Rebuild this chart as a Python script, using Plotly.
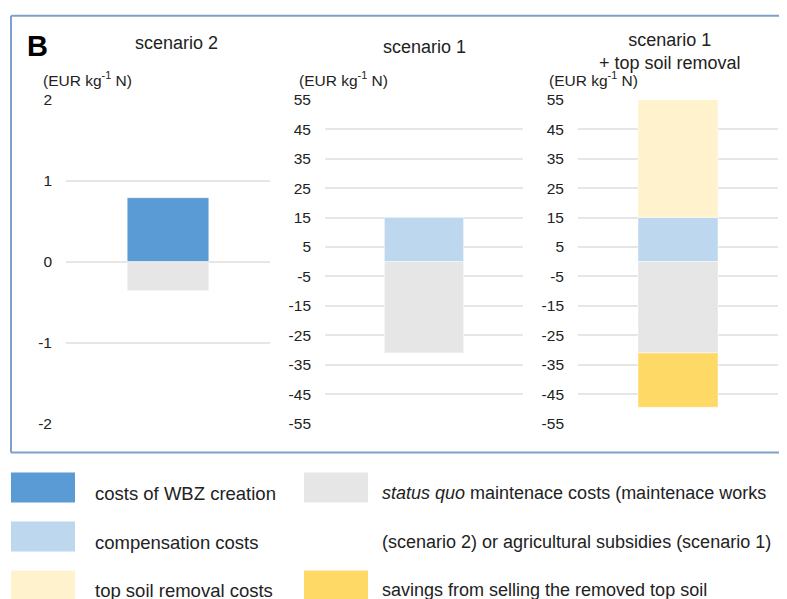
import plotly.graph_objects as go

# ---- data ----
panels = ["scenario 2", "scenario 1", "scenario 1<br>+ top soil removal"]
wbz_creation = [0.79, None, None]
compensation = [None, 15, 15]
topsoil_removal = [None, None, 40]
status_quo = [-0.36, -31, -31]
savings = [None, None, -18.5]

ticks_s2 = [2, 1, 0, -1, -2]
ticks_s1 = [55, 45, 35, 25, 15, 5, -5, -15, -25, -35, -45, -55]
ranges = [[-2, 2], [-55, 55], [-55, 55]]

legend_labels = [
    "costs of WBZ creation", "compensation costs", "top soil removal costs",
    "<i>status quo</i> maintenace costs (maintenace works",
    "(scenario 2) or agricultural subsidies (scenario 1)",
    "savings from selling the removed top soil",
]

colors = {
    "wbz": "#5b9bd5", "comp": "#bdd7ee", "top": "#fff2cc",
    "sq": "#e6e6e6", "sav": "#ffd966",
}

# page placement calibration
OFFX = 8
OFFY = 16.6
SY = 0.9725
W, H = 779, 600


def X(px):
    return (px - OFFX) / W


def Y(py):
    return 1 - (py / SY - OFFY) / H


fig = go.Figure()

series = [
    ("wbz", wbz_creation), ("comp", compensation), ("top", topsoil_removal),
    ("sq", status_quo), ("sav", savings),
]
for i in range(3):
    xa = "x" if i == 0 else f"x{i+1}"
    ya = "y" if i == 0 else f"y{i+1}"
    for key, vals in series:
        v = vals[i]
        if v is None:
            continue
        fig.add_trace(go.Bar(
            x=["c"], y=[v], xaxis=xa, yaxis=ya, width=0.4,
            marker=dict(color=colors[key], line=dict(color="rgba(255,255,255,0.45)", width=1)),
            showlegend=False, hoverinfo="skip",
        ))

xdoms = [(66, 270), (325, 523), (578, 778)]
ydom = [Y(423), Y(99)]
font_family = "Liberation Sans, Arial, sans-serif"
layout = dict(
    width=W, height=H, margin=dict(l=0, r=0, t=0, b=0),
    paper_bgcolor="white", plot_bgcolor="white", barmode="relative",
    font=dict(family=font_family, color="#222222"),
)
for i in range(3):
    sx = "" if i == 0 else str(i + 1)
    layout[f"xaxis{sx}"] = dict(
        domain=[X(xdoms[i][0]), min(1, X(xdoms[i][1]))], anchor=f"y{sx}",
        showticklabels=False, showgrid=False, zeroline=False, showline=False,
        range=[-0.5, 0.5], type="category",
    )
    tv = ticks_s2 if i == 0 else ticks_s1
    layout[f"yaxis{sx}"] = dict(
        domain=ydom, anchor=f"x{sx}", range=ranges[i], tickvals=tv,
        ticktext=[str(t) for t in tv], showgrid=True, gridcolor="#e6e6e6",
        gridwidth=1.5, zeroline=False, showline=False, ticks="",
        ticklabelstandoff=13, tickfont=dict(size=15.5, color="#222222"),
    )
fig.update_layout(**layout)

# titles and units
fig.add_annotation(text=panels[0], x=X(176), y=Y(42), xref="paper", yref="paper",
                   showarrow=False, font=dict(size=18), xanchor="center", yanchor="middle")
fig.add_annotation(text=panels[1], x=X(424), y=Y(46), xref="paper", yref="paper",
                   showarrow=False, font=dict(size=18), xanchor="center", yanchor="middle")
fig.add_annotation(text=panels[2], x=X(670), y=Y(50.5), xref="paper", yref="paper",
                   showarrow=False, font=dict(size=18), xanchor="center", yanchor="middle")
unit_x = [41, 297, 547]
for ux in unit_x:
    fig.add_annotation(text="(EUR kg<sup>-1</sup> N)", x=X(ux), y=Y(78),
                       xref="paper", yref="paper", showarrow=False,
                       font=dict(size=15.5), xanchor="left", yanchor="middle")
fig.add_annotation(text="<b>B</b>", x=X(25), y=Y(45), xref="paper", yref="paper",
                   showarrow=False, font=dict(size=29, color="#000000"),
                   xanchor="left", yanchor="middle")

# border (open to the right: it runs past the picture edge)
border = dict(color="#7ea1c9", width=2)
for (x0, y0, x1, y1) in [(11, 15, 787, 15), (11, 452, 787, 452), (11, 15, 11, 452)]:
    fig.add_shape(type="line", xref="paper", yref="paper",
                  x0=X(x0), x1=X(x1), y0=Y(y0), y1=Y(y1), line=border, layer="above")

# legend (custom)
sw_rows = [(472, 502), (521, 551), (570, 605)]
left_keys = ["wbz", "comp", "top"]
right_keys = ["sq", None, "sav"]
for r, (y0, y1) in enumerate(sw_rows):
    fig.add_shape(type="rect", xref="paper", yref="paper",
                  x0=X(11), x1=X(75), y0=Y(y1), y1=Y(y0),
                  line=dict(width=0), fillcolor=colors[left_keys[r]])
    if right_keys[r]:
        fig.add_shape(type="rect", xref="paper", yref="paper",
                      x0=X(304), x1=X(368), y0=Y(y1), y1=Y(y0),
                      line=dict(width=0), fillcolor=colors[right_keys[r]])
text_y = [493, 542, 590]
for r in range(3):
    fig.add_annotation(text=legend_labels[r], x=X(93), y=Y(text_y[r]),
                       xref="paper", yref="paper", showarrow=False,
                       font=dict(size=18.5), xanchor="left", yanchor="middle")
    fig.add_annotation(text=legend_labels[r + 3], x=X(380), y=Y(text_y[r]),
                       xref="paper", yref="paper", showarrow=False,
                       font=dict(size=18), xanchor="left", yanchor="middle")

fig.write_html("out.html")
